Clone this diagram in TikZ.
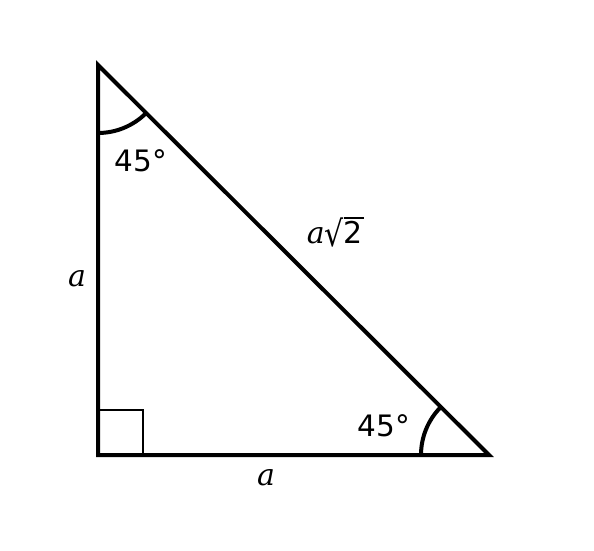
\documentclass[tikz,border=0pt]{standalone}
\usepackage{fontspec}
\usepackage{graphicx}
\setmainfont{DejaVu Sans}
\newfontfamily\serifit{DejaVu Serif Italic}
\newfontfamily\sansreg{DejaVu Sans}
\begin{document}
\begin{tikzpicture}[x=1pt,y=-1pt,
  side/.style={line width=4pt,line join=miter},
  anglearc/.style={line width=4pt},
  sq/.style={line width=2pt},
  deg/.style={font=\fontsize{29.5}{32}\selectfont,inner sep=0pt},
  var/.style={font=\fontsize{30}{34}\selectfont\serifit,inner sep=0pt}]
\useasboundingbox (0,0) rectangle (594,551);
\coordinate (A) at (98,65);
\coordinate (B) at (98,455);
\coordinate (C) at (489,455);
\draw[sq] (98,410) -- (143,410) -- (143,455);
\draw[anglearc] (98,133) arc[start angle=90,end angle=45,radius=68];
\draw[anglearc] (421,455) arc[start angle=180,end angle=225,radius=68];
\draw[side] (A) -- (B) -- (C) -- cycle;
\node[deg] (t1) at (141,161) {45°};
\node[deg] (t2) at (384,426) {45°};
\node[var] (h) at (335,232) {a{\sansreg\raisebox{-0.08em}{\scalebox{1}[1.18]{√}}\rlap{\rule[0.82em]{0.66em}{0.06em}}2}};
\node[var] (l) at (77,279) {a};
\node[var] (b) at (266,478) {a};
\end{tikzpicture}
\end{document}
